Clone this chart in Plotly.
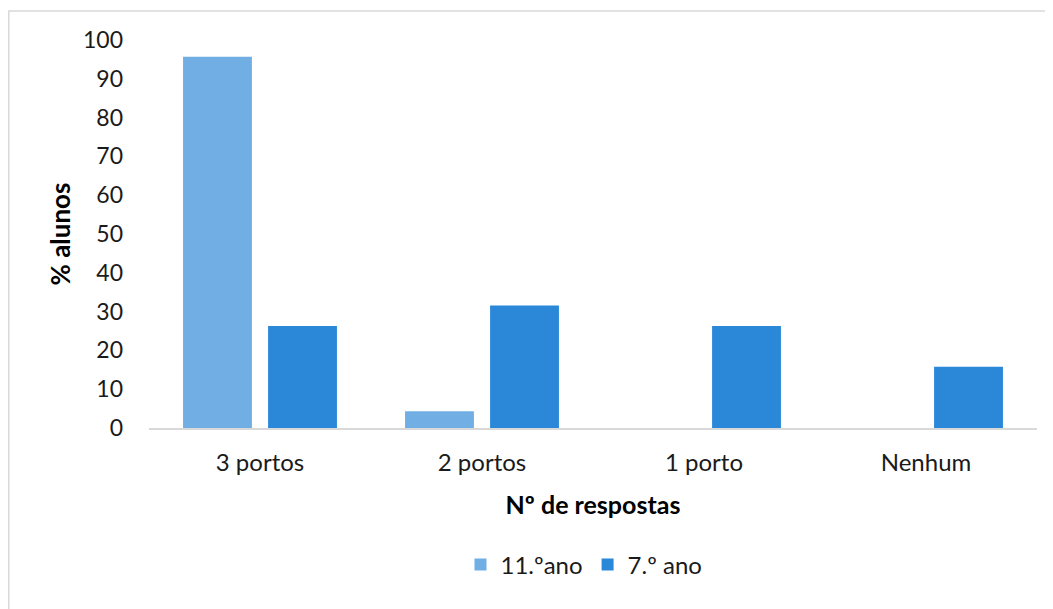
import plotly.graph_objects as go

categories = ["3 portos", "2 portos", "1 porto", "Nenhum"]
series_names = ["11.ºano", "7.º ano"]
values_11 = [95.7, 4.3, 0, 0]
values_7 = [26.3, 31.6, 26.3, 15.8]
y_ticks = [0, 10, 20, 30, 40, 50, 60, 70, 80, 90, 100]

# page has an 8px body margin; figure is placed at (8, 8)
OFF = 8
W, H = 1053 - OFF, 609 - OFF
ML, MT = 149 - OFF, 40 - OFF
MR = W - (1037 - OFF)
MB = H - (428 - OFF)
PW, PH = W - ML - MR, H - MT - MB

FONT = "Lato, 'Open Sans', sans-serif"

fig = go.Figure()
fig.add_trace(go.Bar(name=series_names[0], x=categories, y=values_11,
                     marker=dict(color="#71AEE4", line=dict(width=0))))
fig.add_trace(go.Bar(name=series_names[1], x=categories, y=values_7,
                     marker=dict(color="#2B88D8", line=dict(width=0))))

def px_x(p):
    return (p - OFF - ML) / PW

def px_y(p):
    return (H - MB - (p - OFF)) / PH

fig.add_shape(type="rect", xref="paper", yref="paper",
              x0=px_x(8.8), x1=px_x(1070), y0=px_y(640), y1=px_y(11),
              line=dict(color="#D9D9D9", width=1.5), layer="below")

fig.update_layout(
    width=W, height=H,
    margin=dict(l=ML, r=MR, t=MT, b=MB, autoexpand=False),
    paper_bgcolor="white", plot_bgcolor="white",
    barmode="group", bargap=0.234, bargroupgap=0.19,
    font=dict(family=FONT, size=23, color="#000000"),
    xaxis=dict(showgrid=False, showline=True, linecolor="#D9D9D9", linewidth=2,
               ticks="", tickfont=dict(size=24, color="#1a1a1a"), ticklabelstandoff=12,
               title=dict(text="<b>Nº de respostas</b>", font=dict(size=25), standoff=22)),
    yaxis=dict(range=[0, 100], tickvals=y_ticks, showgrid=False, zeroline=False,
               showline=False, ticks="", tickfont=dict(size=23, color="#1a1a1a"),
               ticklabelstandoff=25,
               title=dict(text="<b>% alunos</b>", font=dict(size=26), standoff=4)),
    legend=dict(orientation="h", x=0.5 - 9 / PW, xanchor="center", y=px_y(565), yanchor="middle",
                font=dict(size=24, color="#1a1a1a"), itemwidth=30, traceorder="normal"),
    showlegend=True,
)

fig.write_html("out.html")
